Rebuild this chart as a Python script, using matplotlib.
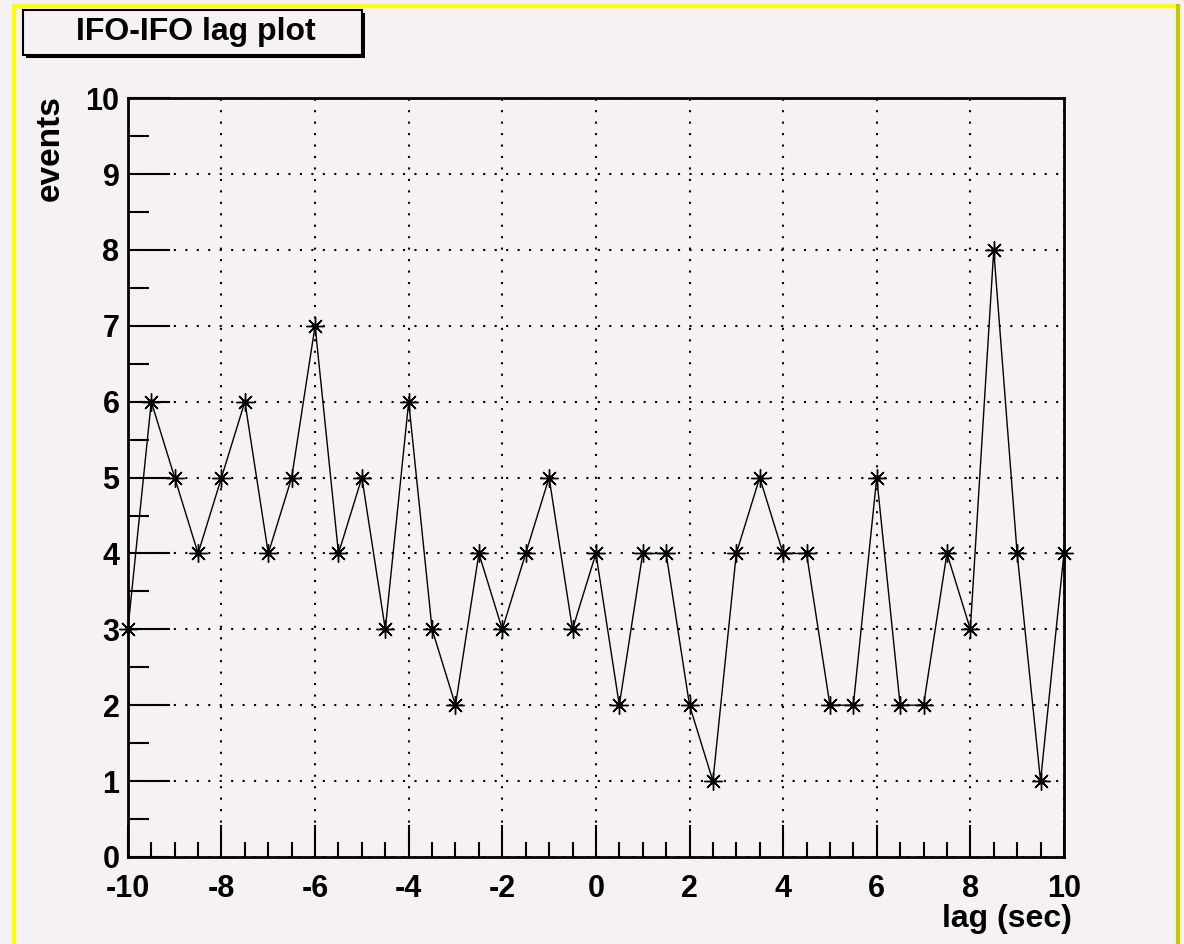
import matplotlib.pyplot as plt
from matplotlib.patches import Rectangle
from matplotlib.lines import Line2D
from matplotlib.ticker import MultipleLocator

plt.rcParams['font.family'] = ['Liberation Sans', 'DejaVu Sans']
plt.rcParams['font.weight'] = 'bold'
plt.rcParams['axes.unicode_minus'] = False

lag = [-10, -9.5, -9, -8.5, -8, -7.5, -7, -6.5, -6, -5.5, -5, -4.5, -4, -3.5,
       -3, -2.5, -2, -1.5, -1, -0.5, 0, 0.5, 1, 1.5, 2, 2.5, 3, 3.5, 4, 4.5,
       5, 5.5, 6, 6.5, 7, 7.5, 8, 8.5, 9, 9.5, 10]
events = [3, 6, 5, 4, 5, 6, 4, 5, 7, 4, 5, 3, 6, 3,
          2, 4, 3, 4, 5, 3, 4, 2, 4, 4, 2, 1, 4, 5, 4, 4,
          2, 2, 5, 2, 2, 4, 3, 8, 4, 1, 4]

bg = '#f5f1f5'
W, H = 1184, 944
fig = plt.figure(figsize=(W / 100, H / 100), dpi=100, facecolor=bg)
ax = fig.add_axes([0.108, 0.0922, 0.7906, 0.8038], facecolor=bg)

ax.plot(lag, events, color='black', lw=1.0)
ax.plot(lag, events, ls='none', marker=(8, 2, 0), ms=13, mew=1.0, color='black',
        clip_on=False)
ax.plot(lag, events, ls='none', marker='o', ms=3.5, color='black', clip_on=False)

ax.set_xlim(-10, 10)
ax.set_ylim(0, 10)
ax.xaxis.set_major_locator(MultipleLocator(2))
ax.xaxis.set_minor_locator(MultipleLocator(0.5))
ax.yaxis.set_major_locator(MultipleLocator(1))
ax.yaxis.set_minor_locator(MultipleLocator(0.5))
ax.tick_params(which='both', direction='in', width=1.5, top=False, right=False,
               labelsize=22)
ax.tick_params(axis='x', which='major', length=23, pad=12)
ax.tick_params(axis='x', which='minor', length=11)
ax.tick_params(axis='y', which='major', length=30, pad=6)
ax.tick_params(axis='y', which='minor', length=15)
ax.grid(True, which='major', color='black', ls=(0, (1, 4.5)), lw=1.5)
for s in ax.spines.values():
    s.set_linewidth(2)

ax.set_xlabel('lag (sec)', fontsize=23, fontweight='bold')
ax.xaxis.set_label_coords(1.0085, -0.062)
ax.xaxis.label.set_ha('right')
ax.xaxis.label.set_va('top')
ax.set_ylabel('events', fontsize=24, fontweight='bold')
ax.yaxis.set_label_coords(-0.083, 1.004)
ax.yaxis.label.set_ha('right')
ax.yaxis.label.set_va('center')

# title box with shadow
fig.patches.append(Rectangle((26 / W, 1 - 58 / H), 339 / W, 45 / H,
                             transform=fig.transFigure, facecolor='black',
                             edgecolor='none'))
fig.patches.append(Rectangle((23 / W, 1 - 55 / H), 339 / W, 45 / H,
                             transform=fig.transFigure, facecolor=bg,
                             edgecolor='black', lw=1.5))
fig.text(196 / W, 1 - 32 / H, 'IFO-IFO lag plot', fontsize=23,
         fontweight='bold', ha='center', va='center')

# canvas border
fig.lines.append(Line2D([14 / W, 14 / W], [0, 1 - 6 / H], transform=fig.transFigure,
                        color='#ffff00', lw=3))
fig.lines.append(Line2D([14 / W, 1178 / W], [1 - 6 / H, 1 - 6 / H],
                        transform=fig.transFigure, color='#ffff00', lw=3))
fig.lines.append(Line2D([1178 / W, 1178 / W], [0, 1 - 6 / H], transform=fig.transFigure,
                        color='#c8c800', lw=3))

fig.savefig('out.png', dpi=100, facecolor=bg)
